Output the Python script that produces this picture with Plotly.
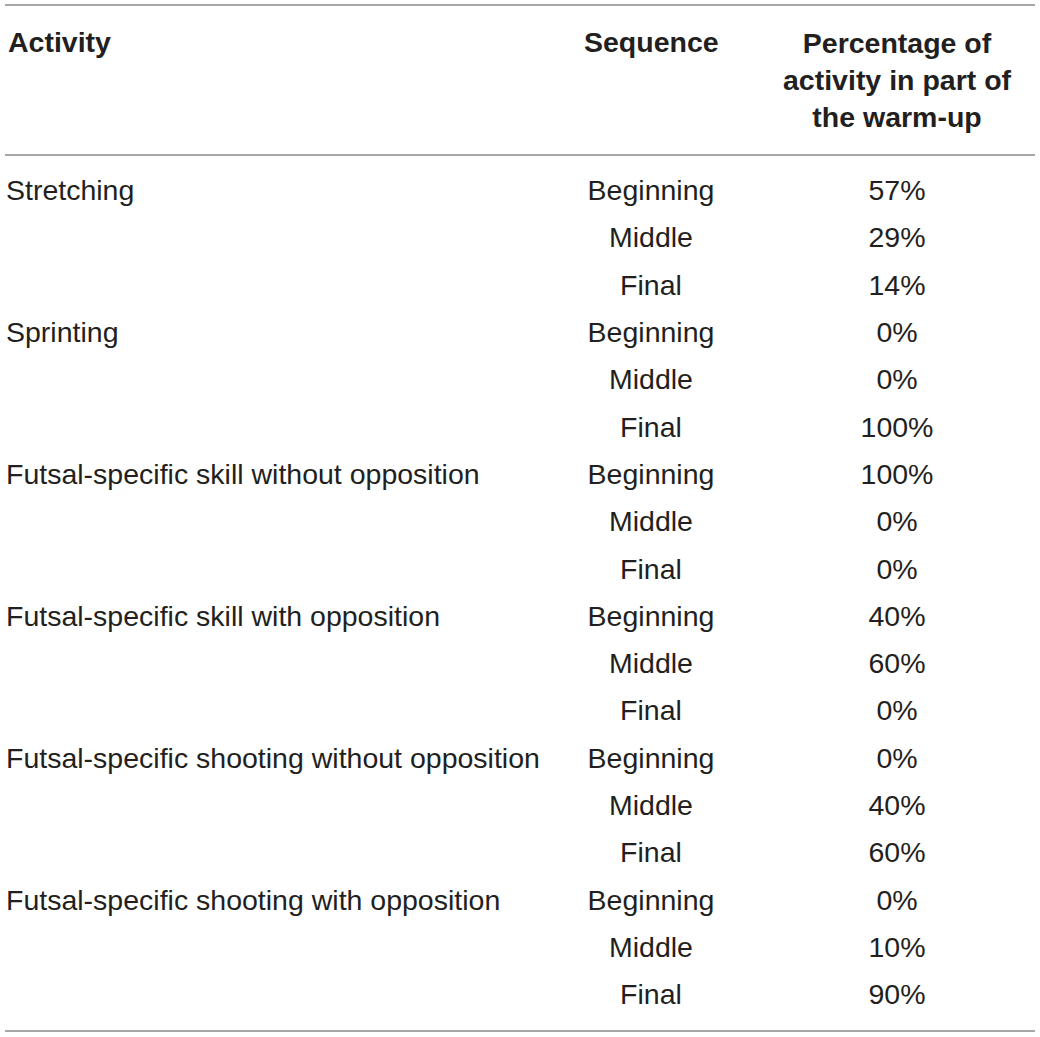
import plotly.graph_objects as go

W, H = 1040, 1037

activities = [
    "Stretching",
    "Sprinting",
    "Futsal-specific skill without opposition",
    "Futsal-specific skill with opposition",
    "Futsal-specific shooting without opposition",
    "Futsal-specific shooting with opposition",
]
sequences = ["Beginning", "Middle", "Final"]
percentages = [
    [57, 29, 14],
    [0, 0, 100],
    [100, 0, 0],
    [40, 60, 0],
    [0, 40, 60],
    [0, 10, 90],
]
headers = ["Activity", "Sequence", "Percentage of<br>activity in part of<br>the warm-up"]

TEXT = "#231f20"
LINE = "#8a8a8a"
FONT = "Liberation Sans"
SIZE = 28.5

# layout in pixel units
X_ACT, X_SEQ, X_PCT = 6, 651, 897
Y0, DY = 193, 47.3

act_x, act_y, act_t = [], [], []
seq_y, seq_t, pct_t = [], [], []
row = 0
for a, vals in zip(activities, percentages):
    act_x.append(X_ACT)
    act_y.append(Y0 + row * DY)
    act_t.append(a)
    for s, v in zip(sequences, vals):
        seq_y.append(Y0 + row * DY)
        seq_t.append(s)
        pct_t.append(f"{v}%")
        row += 1

fig = go.Figure()
fig.add_trace(go.Scatter(x=act_x, y=act_y, text=act_t, mode="text",
                         textposition="middle right",
                         textfont=dict(family=FONT, size=SIZE, color=TEXT)))
fig.add_trace(go.Scatter(x=[X_SEQ] * len(seq_y), y=seq_y, text=seq_t, mode="text",
                         textposition="middle center",
                         textfont=dict(family=FONT, size=SIZE, color=TEXT)))
fig.add_trace(go.Scatter(x=[X_PCT] * len(seq_y), y=seq_y, text=pct_t, mode="text",
                         textposition="middle center",
                         textfont=dict(family=FONT, size=SIZE, color=TEXT)))

# header
hfont = dict(family=FONT, size=SIZE, color=TEXT, weight="bold")
fig.add_annotation(x=X_ACT, y=42, text=headers[0], xanchor="left", yanchor="middle",
                   showarrow=False, font=hfont)
fig.add_annotation(x=X_SEQ, y=42, text=headers[1], xanchor="center", yanchor="middle",
                   showarrow=False, font=hfont)
fig.add_annotation(x=X_PCT, y=80, text=headers[2], xanchor="center", yanchor="middle",
                   showarrow=False, font=hfont, align="center")

for y in [5, 155, 1031]:
    fig.add_shape(type="line", x0=5, x1=1035, y0=y, y1=y,
                  line=dict(color=LINE, width=1.5))

fig.update_layout(
    width=W, height=H,
    margin=dict(l=0, r=0, t=0, b=0),
    paper_bgcolor="white", plot_bgcolor="white",
    showlegend=False,
    hovermode=False,
    xaxis=dict(range=[0, W], visible=False, fixedrange=True),
    yaxis=dict(range=[H, 0], visible=False, fixedrange=True),
)

fig.write_html("out.html", config={"displayModeBar": False},
               post_script="document.body.style.margin='0';")
